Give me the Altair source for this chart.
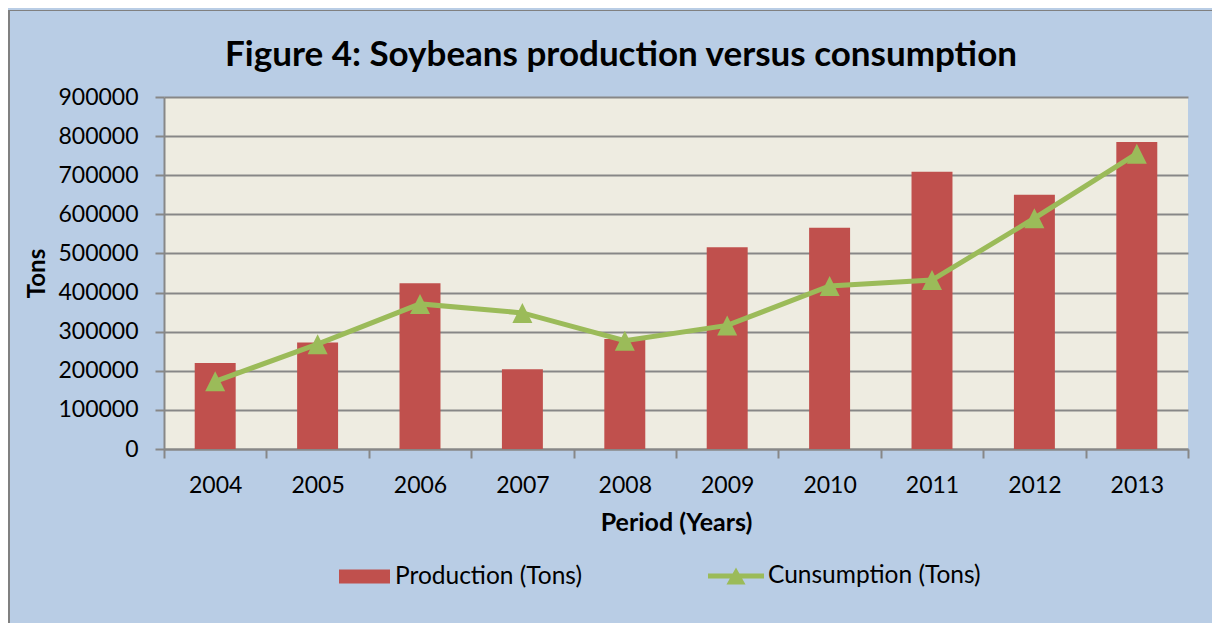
import altair as alt
import pandas as pd

# ---- data ----
years = ["2004", "2005", "2006", "2007", "2008", "2009", "2010", "2011", "2012", "2013"]
production = [220000, 272000, 424000, 204000, 281000, 516000, 566000, 709000, 650000, 785000]
consumption = [173000, 268000, 371000, 348000, 277000, 316000, 417000, 432000, 590000, 755000]
y_ticks = [0, 100000, 200000, 300000, 400000, 500000, 600000, 700000, 800000, 900000]
prod_label = "Production (Tons)"
cons_label = "Cunsumption (Tons)"
title_text = "Figure 4: Soybeans production versus consumption"
x_title = "Period (Years)"
y_title = "Tons"

df = pd.DataFrame({
    "Year": years,
    "Production": production,
    "Consumption": consumption,
    "ProdSeries": [prod_label] * len(years),
    "ConsSeries": [cons_label] * len(years),
})

FONT = "Lato"
GRAY = "#878787"
RED = "#C0504D"
GREEN = "#9BBB59"
OUTER = "#B9CDE5"
PLOT_BG = "#EEECE1"

W, H = 1024, 352

x_axis = alt.Axis(
    title=x_title, labelAngle=0, tickBand="extent", grid=False,
    domainColor=GRAY, domainWidth=2, tickColor=GRAY, tickWidth=2, tickSize=9,
    labelPadding=34, labelBaseline="alphabetic", labelFontSize=23, labelFont=FONT,
    labelColor="black", titleFont=FONT, titleFontSize=25, titleFontWeight="bold",
    titleColor="black", titleY=81, titleBaseline="alphabetic",
)
y_axis = alt.Axis(
    title=y_title, values=y_ticks, format="d", grid=True, gridColor=GRAY, gridWidth=2,
    domainColor=GRAY, domainWidth=2, tickColor=GRAY, tickWidth=2, tickSize=9,
    labelPadding=17, labelFontSize=23, labelFont=FONT, labelColor="black",
    titleFont=FONT, titleFontSize=24, titleFontWeight="bold", titleColor="black",
    titleX=-127, titleY=176, titleAngle=270, titleBaseline="middle", titleAlign="center",
)

x_enc = alt.X("Year:N", sort=years, scale=alt.Scale(paddingInner=0, paddingOuter=0), axis=x_axis)
y_scale = alt.Scale(domain=[0, 900000], nice=False)

rect_path = "M-1,-0.275L1,-0.275L1,0.275L-1,0.275Z"
line_tri_path = "M-1,-0.09L1,-0.09L1,0.09L-1,0.09Z M0,-0.3L0.34,0.3L-0.34,0.3Z"
tri_path = "M0,-1L1,1L-1,1Z"

bars = alt.Chart(df).mark_bar(width=alt.RelativeBandSize(0.4), opacity=1).encode(
    x=x_enc,
    y=alt.Y("Production:Q", scale=y_scale, axis=y_axis),
    color=alt.Color(
        "ProdSeries:N",
        scale=alt.Scale(domain=[prod_label], range=[RED]),
        legend=alt.Legend(
            title=None, orient="none", legendX=175, legendY=454, padding=0,
            symbolType=rect_path, symbolSize=2601, symbolStrokeWidth=0, symbolOpacity=1,
            labelOffset=5, labelFontSize=24.5, labelFont=FONT, labelColor="black", labelLimit=0,
        ),
    ),
)

line = alt.Chart(df).mark_line(color=GREEN, strokeWidth=5, opacity=1).encode(
    x=x_enc,
    y=alt.Y("Consumption:Q", scale=y_scale, axis=y_axis),
)

points = alt.Chart(df).mark_point(filled=True, shape=tri_path, size=400, opacity=1, strokeWidth=0).encode(
    x=x_enc,
    y=alt.Y("Consumption:Q", scale=y_scale, axis=y_axis),
    color=alt.Color(
        "ConsSeries:N",
        scale=alt.Scale(domain=[cons_label], range=[GREEN]),
        legend=alt.Legend(
            title=None, orient="none", legendX=544, legendY=451, padding=0,
            symbolType=line_tri_path, symbolSize=3136, symbolStrokeWidth=0, symbolOpacity=1,
            labelOffset=4, labelFontSize=24.5, labelFont=FONT, labelColor="black", labelLimit=0,
        ),
    ),
)

frame_df = pd.DataFrame({"k": [0]})
frame_left = alt.Chart(frame_df).mark_rule(color="#808080", strokeWidth=2).encode(
    x=alt.value(-155), y=alt.value(-87), y2=alt.value(526)
)
frame_top = alt.Chart(frame_df).mark_rule(color="#808080", strokeWidth=1).encode(
    x=alt.value(-156), x2=alt.value(1048), y=alt.value(-86.5)
)

chart = alt.layer(frame_left, frame_top, bars, line, points).resolve_scale(
    color="independent"
).properties(
    width=W, height=H,
    padding={"left": 156, "top": 89, "right": 24, "bottom": 174},
    autosize=alt.AutoSizeParams(type="none"),
    background=OUTER,
    title=alt.TitleParams(
        text=title_text, font=FONT, fontSize=35, fontWeight="bold", color="black",
        anchor="middle", frame="group", dx=-55, offset=0, dy=92, baseline="alphabetic",
    ),
).configure(font=FONT).configure_view(fill=PLOT_BG, stroke=None)

chart.save("out.html", embed_options={"renderer": "svg", "actions": False})
